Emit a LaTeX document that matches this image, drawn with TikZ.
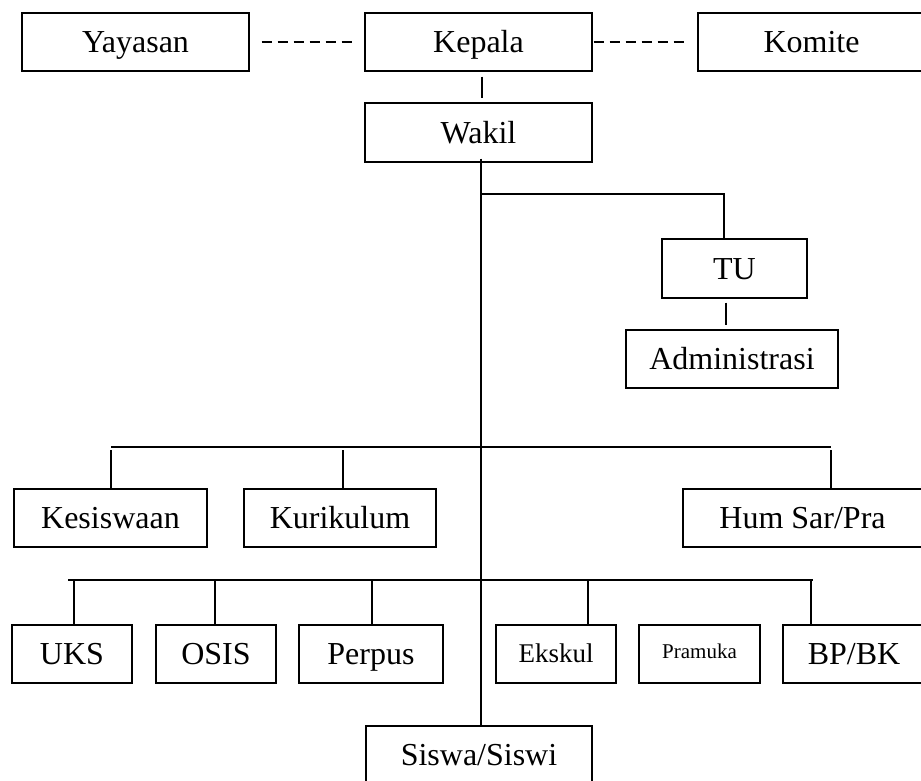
\documentclass[tikz,border=0pt]{standalone}
\usepackage{fontspec}
\setmainfont{Liberation Serif}
\begin{document}
\begin{tikzpicture}[x=1pt,y=-1pt,
  box/.style={draw, line width=1.3pt, minimum height=58pt, inner sep=0pt, text height=21pt, text depth=0pt, font=\fontsize{32}{38}\selectfont},
  link/.style={line width=1.3pt},
  dlink/.style={line width=1.3pt, dash pattern=on 10pt off 6pt}]
\useasboundingbox (0,0) rectangle (921,781);
\clip (0,0) rectangle (921,781);
% top row
\node[box, minimum width=227pt] (yay) at (135.5,42) {Yayasan};
\node[box, minimum width=227pt] (kep) at (478.5,42) {Kepala};
\node[box, minimum width=227pt] (kom) at (811.5,42) {Komite};
\node[box, minimum width=227pt, minimum height=59pt] (wak) at (478.5,132.5) {Wakil};
\node[box, minimum width=145pt, minimum height=59pt] (tu) at (734.5,268.5) {TU};
\node[box, minimum width=212pt] (adm) at (732,359) {Administrasi};
% level 2
\node[box, minimum width=193pt] (kes) at (110.5,518) {Kesiswaan};
\node[box, minimum width=192pt] (kur) at (340,518) {Kurikulum};
\node[box, minimum width=239pt] (hum) at (802.5,518) {Hum Sar/Pra};
% level 3
\node[box, minimum width=120pt] (uks) at (72,654) {UKS};
\node[box, minimum width=120pt] (osis) at (216,654) {OSIS};
\node[box, minimum width=144pt] (per) at (371,654) {Perpus};
\node[box, minimum width=120pt, text height=17pt, font=\fontsize{27}{32}\selectfont] (eks) at (556,654) {Ekskul};
\node[box, minimum width=121pt, text height=9pt, font=\fontsize{21}{25}\selectfont] (pra) at (699.5,654) {Pramuka};
\node[box, minimum width=142pt] (bpbk) at (854,654) {BP/BK};
\node[box, minimum width=226pt] (sis) at (479,755) {Siswa/Siswi};
% dashed links
\draw[dlink, shorten <=12pt, shorten >=8pt] (yay) -- (kep);
\draw[dlink, shorten <=1pt, shorten >=8pt] (kep) -- (kom);
% Kepala - Wakil
\coordinate (kw) at (482,0);
\draw[link, shorten <=5pt, shorten >=4pt] (kep.south -| kw) -- (wak.north -| kw);
% spine
\coordinate (sp) at (481,0);
\draw[link] ([yshift=4pt]wak.south -| sp) -- (sis.north -| sp);
% TU branch
\coordinate (b1) at (481,194);
\coordinate (b1t) at (724,194);
\draw[link] (b1) -| (tu.north -| b1t);
\coordinate (ta) at (726,0);
\draw[link, shorten <=4pt, shorten >=4pt] (tu.south -| ta) -- (adm.north -| ta);
% level 2 bar
\coordinate (h2l) at (111,447);
\coordinate (h2k) at (343,447);
\coordinate (h2r) at (831,447);
\draw[link] ([yshift=-3pt]h2l) -- (kes.north -| h2l);
\draw[link] (h2l) -- (h2r);
\draw[link] ([yshift=-3pt]h2k) -- (kur.north -| h2k);
\draw[link] ([yshift=-3pt]h2r) -- (hum.north -| h2r);
% level 3 bar
\coordinate (h3l) at (68,580);
\coordinate (h3r) at (813,580);
\coordinate (t1) at (74,580);
\coordinate (t2) at (215,580);
\coordinate (t3) at (372,580);
\coordinate (t4) at (588,580);
\coordinate (t5) at (811,580);
\draw[link] (h3l) -- (h3r);
\draw[link] (t1) -- (uks.north -| t1);
\draw[link] (t2) -- (osis.north -| t2);
\draw[link] (t3) -- (per.north -| t3);
\draw[link] (t4) -- (eks.north -| t4);
\draw[link] (t5) -- (bpbk.north -| t5);
\end{tikzpicture}
\end{document}
